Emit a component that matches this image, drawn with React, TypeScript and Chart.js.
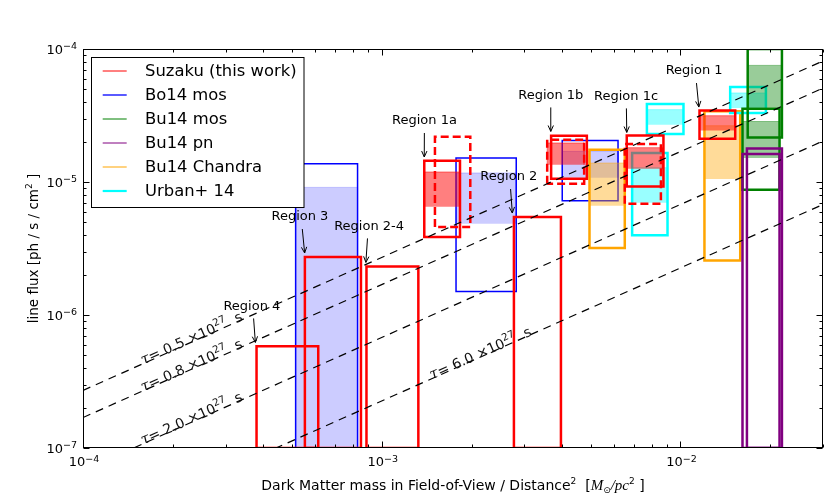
import React, { useEffect, useRef } from 'react';
import { Chart, registerables } from 'chart.js';

Chart.register(...registerables);

// ---------------- data ----------------
const seriesNames = ['Suzaku (this work)', 'Bo14 mos', 'Bu14 mos', 'Bu14 pn', 'Bu14 Chandra', 'Urban+ 14'];

// boxes: [massMin, massMax, fluxMin, fluxMax]
const suzakuBoxes = [
  [3.81e-4, 6.13e-4, 1e-7, 5.81e-7],
  [5.53e-4, 8.52e-4, 1e-7, 2.73e-6],
  [8.89e-4, 1.326e-3, 1e-7, 2.32e-6],
  [2.77e-3, 3.98e-3, 1e-7, 5.45e-6],
  [1.388e-3, 1.828e-3, 3.86e-6, 1.446e-5],
  [3.69e-3, 4.86e-3, 1.059e-5, 2.23e-5],
  [6.61e-3, 8.77e-3, 9.27e-6, 2.24e-5],
  [1.158e-2, 1.525e-2, 2.11e-5, 3.45e-5],
];
const suzakuDashedBoxes = [
  [1.507e-3, 1.979e-3, 4.59e-6, 2.19e-5],
  [3.58e-3, 4.76e-3, 9.71e-6, 2.08e-5],
  [6.51e-3, 8.6e-3, 6.87e-6, 1.931e-5],
];
// bands: [massMin, massMax, fluxLo, fluxHi]
const suzakuBands = [
  [1.388e-3, 1.828e-3, 6.52e-6, 1.189e-5],
  [3.58e-3, 4.76e-3, 1.349e-5, 1.964e-5],
  [6.61e-3, 8.7e-3, 1.259e-5, 1.811e-5],
  [1.158e-2, 1.525e-2, 2.44e-5, 3.15e-5],
];
const bo14MosBoxes = [
  [5.15e-4, 8.3e-4, 1e-7, 1.373e-5],
  [1.773e-3, 2.82e-3, 1.504e-6, 1.515e-5],
  [4.02e-3, 6.18e-3, 7.23e-6, 2.055e-5],
];
const bo14MosBands = [
  [5.15e-4, 8.3e-4, 1e-7, 9.11e-6],
  [1.773e-3, 2.82e-3, 4.86e-6, 1.169e-5],
  [4.02e-3, 6.18e-3, 1.077e-5, 1.7e-5],
];
const bu14ChandraBoxes = [
  [4.96e-3, 6.51e-3, 3.19e-6, 1.749e-5],
  [1.203e-2, 1.585e-2, 2.57e-6, 3.4e-5],
];
const bu14ChandraBands = [
  [4.96e-3, 6.51e-3, 6.63e-6, 1.389e-5],
  [1.203e-2, 1.585e-2, 1.053e-5, 2.65e-5],
];
const urbanBoxes = [
  [6.89e-3, 9.05e-3, 3.97e-6, 1.652e-5],
  [7.72e-3, 1.0235e-2, 2.3e-5, 3.86e-5],
  [1.467e-2, 1.932e-2, 3.3e-5, 5.18e-5],
];
const urbanBands = [
  [6.89e-3, 9.05e-3, 6.99e-6, 1.281e-5],
  [7.72e-3, 1.0235e-2, 2.7e-5, 3.5e-5],
  [1.467e-2, 1.932e-2, 3.6e-5, 4.67e-5],
];
const bu14MosBoxes = [
  [1.679e-2, 2.186e-2, 2.165e-5, 1e-4],
  [1.613e-2, 2.146e-2, 8.75e-6, 3.56e-5],
];
const bu14MosBands = [
  [1.679e-2, 2.186e-2, 3.62e-5, 7.53e-5],
  [1.613e-2, 2.146e-2, 1.515e-5, 2.85e-5],
];
const bu14PnBoxes = [
  [1.613e-2, 2.146e-2, 1e-7, 1.624e-5],
  [1.669e-2, 2.186e-2, 1e-7, 1.789e-5],
];

// lifetime lines: flux = coeff * mass / tau  (tau in 10^27 s)
const tauValues = [0.5, 0.8, 2.0, 6.0];
const tauFluxCoeff = 1.355e-3;

// axis ranges and tick labels
const massRange = [1e-4, 0.03];
const fluxRange = [1e-7, 1e-4];
const xTickExponents = [-4, -3, -2];
const yTickExponents = [-7, -6, -5, -4];

// region annotations (arrow tips in data coordinates)
const regionNames = ['Region 4', 'Region 3', 'Region 2-4', 'Region 1a', 'Region 2', 'Region 1b', 'Region 1c', 'Region 1'];
const regionTipMass = [3.775e-4, 5.52e-4, 8.85e-4, 1.388e-3, 2.736e-3, 3.68e-3, 6.61e-3, 1.152e-2];
const regionTipFlux = [6.22e-7, 2.925e-6, 2.486e-6, 1.542e-5, 5.845e-6, 2.4e-5, 2.36e-5, 3.66e-5];

// ---------------- styling / layout ----------------
const regionTextDx = [-3.5, -4.7, 3.2, 0.2, -3.5, 0, -0.7, -4.7];
const tauLabelMass = [1.585e-4, 1.585e-4, 1.585e-4, 1.47e-3];
const seriesColors = ['#ff0000', '#0000ff', '#008000', '#800080', '#ffa500', '#00ffff'];
const legendLineWidths = [1, 1.3, 1, 1, 1, 2.2];
const SANS = "'DejaVu Sans', sans-serif";

function rgba(hex: string, a: number) {
  const r = parseInt(hex.slice(1, 3), 16);
  const g = parseInt(hex.slice(3, 5), 16);
  const b = parseInt(hex.slice(5, 7), 16);
  return `rgba(${r},${g},${b},${a})`;
}

function boxDataset(b: number[], color: string, width: number, dashed: boolean) {
  const [x1, x2, y1, y2] = b;
  const pts = [
    { x: x1, y: y1 },
    { x: x1, y: y2 },
    { x: x2, y: y2 },
    { x: x2, y: y1 },
    { x: x1, y: y1 },
  ];
  if (!dashed) pts.push({ x: x1, y: y2 });
  return {
    type: 'line',
    data: pts,
    borderColor: color,
    borderWidth: width,
    borderDash: dashed ? [8, 4] : [],
    borderJoinStyle: 'miter',
    borderCapStyle: 'butt',
    fill: false,
    pointRadius: 0,
    pointHoverRadius: 0,
    tension: 0,
    clip: 0,
  };
}

function bandDataset(b: number[], color: string, alpha: number) {
  const [x1, x2, lo, hi] = b;
  return {
    type: 'line',
    data: [
      { x: x1, y: lo },
      { x: x1, y: hi },
      { x: x2, y: hi },
      { x: x2, y: lo },
    ],
    borderColor: rgba(color, alpha),
    backgroundColor: rgba(color, alpha),
    borderWidth: 1,
    fill: { value: lo },
    pointRadius: 0,
    pointHoverRadius: 0,
    tension: 0,
    clip: 0,
  };
}

type Seg = { t: string; font: string; dy?: number };
function segsWidth(ctx: CanvasRenderingContext2D, segs: Seg[]) {
  let w = 0;
  for (const s of segs) {
    ctx.font = s.font;
    w += ctx.measureText(s.t).width;
  }
  return w;
}
function drawSegs(ctx: CanvasRenderingContext2D, segs: Seg[], x: number, y: number) {
  let cx = x;
  for (const s of segs) {
    ctx.font = s.font;
    ctx.fillText(s.t, cx, y + (s.dy || 0));
    cx += ctx.measureText(s.t).width;
  }
}

function powSegs(e: number): Seg[] {
  return [
    { t: '10', font: `13px ${SANS}` },
    { t: (e < 0 ? '\u2212' : '') + Math.abs(e), font: `9.5px ${SANS}`, dy: -4.5 },
  ];
}

const overlayPlugin = {
  id: 'overlay',
  afterDatasetsDraw(chart: any) {
    const ctx: CanvasRenderingContext2D = chart.ctx;
    const xs = chart.scales.x;
    const ys = chart.scales.y;
    ctx.save();
    ctx.fillStyle = '#111';
    ctx.textAlign = 'left';
    ctx.textBaseline = 'alphabetic';
    // tau labels
    tauValues.forEach((tau, i) => {
      const ax = xs.getPixelForValue(massRange[0]);
      const ay = ys.getPixelForValue((tauFluxCoeff * massRange[0]) / tau);
      const bx = xs.getPixelForValue(massRange[1]);
      const by = ys.getPixelForValue((tauFluxCoeff * massRange[1]) / tau);
      const ang = Math.atan2(by - ay, bx - ax);
      const m0 = tauLabelMass[i];
      const px = xs.getPixelForValue(m0);
      const py = ys.getPixelForValue((tauFluxCoeff * m0) / tau);
      const segs: Seg[] = [
        { t: '\u03c4', font: `italic 15px 'DejaVu Serif', serif` },
        { t: '= ' + tau.toFixed(1) + ' \u00d710', font: `14px ${SANS}` },
        { t: '27', font: `10px ${SANS}`, dy: -6 },
        { t: '  s', font: `14px ${SANS}` },
      ];
      ctx.save();
      ctx.translate(px, py);
      ctx.rotate(ang);
      drawSegs(ctx, segs, 0, 1);
      ctx.restore();
    });
    // region annotations
    ctx.fillStyle = '#000';
    ctx.strokeStyle = '#000';
    ctx.lineWidth = 1;
    regionNames.forEach((name, i) => {
      const tx = xs.getPixelForValue(regionTipMass[i]);
      const ty = ys.getPixelForValue(regionTipFlux[i]);
      const dx = regionTextDx[i];
      ctx.font = `13px ${SANS}`;
      ctx.textAlign = 'center';
      ctx.textBaseline = 'middle';
      ctx.fillText(name, tx + dx, ty - 36);
      const sx = tx + dx * 0.5;
      const sy = ty - 24;
      ctx.beginPath();
      ctx.moveTo(sx, sy);
      ctx.lineTo(tx, ty);
      const d = Math.atan2(ty - sy, tx - sx);
      const hl = 6.5;
      const ha = 0.42;
      ctx.moveTo(tx - hl * Math.cos(d - ha), ty - hl * Math.sin(d - ha));
      ctx.lineTo(tx, ty);
      ctx.lineTo(tx - hl * Math.cos(d + ha), ty - hl * Math.sin(d + ha));
      ctx.stroke();
    });
    ctx.restore();
  },
  afterDraw(chart: any) {
    const ctx: CanvasRenderingContext2D = chart.ctx;
    const xs = chart.scales.x;
    const ys = chart.scales.y;
    const a = chart.chartArea;
    const L = Math.round(a.left) + 0.5;
    const R = Math.round(a.right) - 0.5;
    const T = Math.round(a.top) + 0.5;
    const B = Math.round(a.bottom) - 0.5;
    ctx.save();
    ctx.strokeStyle = '#000';
    ctx.lineWidth = 1;
    // ticks
    ctx.beginPath();
    for (let e = -5; e <= -1; e++) {
      for (let k = 1; k <= 9; k++) {
        const v = k * Math.pow(10, e);
        const len = k === 1 ? 6 : 3;
        if (v >= massRange[0] * 0.999 && v <= massRange[1] * 1.001) {
          const p = Math.round(xs.getPixelForValue(v)) + 0.5;
          ctx.moveTo(p, B);
          ctx.lineTo(p, B - len);
          ctx.moveTo(p, T);
          ctx.lineTo(p, T + len);
        }
      }
    }
    for (let e = -8; e <= -4; e++) {
      for (let k = 1; k <= 9; k++) {
        const v = k * Math.pow(10, e);
        const len = k === 1 ? 6 : 3;
        if (v >= fluxRange[0] * 0.999 && v <= fluxRange[1] * 1.001) {
          const p = Math.round(ys.getPixelForValue(v)) + 0.5;
          ctx.moveTo(L, p);
          ctx.lineTo(L + len, p);
          ctx.moveTo(R, p);
          ctx.lineTo(R - len, p);
        }
      }
    }
    ctx.stroke();
    // frame
    ctx.strokeRect(L, T, R - L, B - T);

    // tick labels
    ctx.fillStyle = '#000';
    ctx.textAlign = 'left';
    ctx.textBaseline = 'alphabetic';
    yTickExponents.forEach((e) => {
      const segs = powSegs(e);
      const w = segsWidth(ctx, segs);
      const p = ys.getPixelForValue(Math.pow(10, e));
      drawSegs(ctx, segs, 77 - w, p + 4.7);
    });
    xTickExponents.forEach((e) => {
      const segs = powSegs(e);
      const w = segsWidth(ctx, segs);
      const p = xs.getPixelForValue(Math.pow(10, e));
      drawSegs(ctx, segs, p - w / 2 + 1, 466);
    });

    // axis titles
    const xt: Seg[] = [
      { t: 'Dark Matter mass in Field-of-View / Distance', font: `14px ${SANS}` },
      { t: '2', font: `9px ${SANS}`, dy: -6 },
      { t: '  [', font: `14px ${SANS}` },
      { t: 'M', font: `italic 15px 'Liberation Serif', serif` },
      { t: '\u2299', font: `9px ${SANS}`, dy: 3 },
      { t: '/', font: `italic 15px 'Liberation Serif', serif` },
      { t: 'pc', font: `italic 15px 'Liberation Serif', serif` },
      { t: '2', font: `9px ${SANS}`, dy: -6 },
      { t: ' ]', font: `14px ${SANS}` },
    ];
    const xw = segsWidth(ctx, xt);
    drawSegs(ctx, xt, (a.left + a.right) / 2 - xw / 2, 490);

    const yt: Seg[] = [
      { t: 'line flux [ph / s / cm', font: `13.5px ${SANS}` },
      { t: '2', font: `9px ${SANS}`, dy: -6 },
      { t: ' ]', font: `13.5px ${SANS}` },
    ];
    const yw = segsWidth(ctx, yt);
    ctx.save();
    ctx.translate(38, (a.top + a.bottom) / 2);
    ctx.rotate(-Math.PI / 2);
    drawSegs(ctx, yt, -yw / 2, 0);
    ctx.restore();

    // legend
    const lx = 91.5;
    const ly = 57.5;
    const lw = 212.5;
    const lh = 150;
    ctx.fillStyle = '#fff';
    ctx.fillRect(lx, ly, lw, lh);
    ctx.strokeStyle = '#000';
    ctx.lineWidth = 1;
    ctx.strokeRect(lx, ly, lw, lh);
    seriesNames.forEach((name, i) => {
      const y = 71 + i * 24;
      ctx.strokeStyle = seriesColors[i];
      ctx.lineWidth = legendLineWidths[i];
      ctx.beginPath();
      ctx.moveTo(102.7, y);
      ctx.lineTo(126.7, y);
      ctx.stroke();
      ctx.fillStyle = '#000';
      ctx.font = `16.4px ${SANS}`;
      ctx.textAlign = 'left';
      ctx.textBaseline = 'middle';
      ctx.fillText(name, 145, y + 1);
    });
    ctx.restore();
  },
};

export default function App() {
  const ref = useRef<HTMLCanvasElement | null>(null);
  useEffect(() => {
    document.body.style.margin = '0';
    const canvas = ref.current;
    if (!canvas) return;
    const ds: any[] = [];
    // drawing order: bottom -> top
    bo14MosBands.forEach((b) => ds.push(bandDataset(b, seriesColors[1], 0.2)));
    bo14MosBoxes.forEach((b) => ds.push(boxDataset(b, seriesColors[1], 1.5, false)));
    bu14ChandraBands.forEach((b) => ds.push(bandDataset(b, seriesColors[4], 0.4)));
    bu14ChandraBoxes.forEach((b) => ds.push(boxDataset(b, seriesColors[4], 2.5, false)));
    urbanBands.forEach((b) => ds.push(bandDataset(b, seriesColors[5], 0.4)));
    urbanBoxes.forEach((b) => ds.push(boxDataset(b, seriesColors[5], 2.5, false)));
    bu14MosBands.forEach((b) => ds.push(bandDataset(b, seriesColors[2], 0.4)));
    bu14MosBoxes.forEach((b) => ds.push(boxDataset(b, seriesColors[2], 2.5, false)));
    bu14PnBoxes.forEach((b) => ds.push(boxDataset(b, seriesColors[3], 2.5, false)));
    suzakuBands.forEach((b) => ds.push(bandDataset(b, seriesColors[0], 0.5)));
    suzakuDashedBoxes.forEach((b) => ds.push(boxDataset(b, seriesColors[0], 2.5, true)));
    suzakuBoxes.forEach((b) => ds.push(boxDataset(b, seriesColors[0], 2.5, false)));
    tauValues.forEach((tau) =>
      ds.push({
        type: 'line',
        data: [
          { x: massRange[0], y: (tauFluxCoeff * massRange[0]) / tau },
          { x: massRange[1], y: (tauFluxCoeff * massRange[1]) / tau },
        ],
        borderColor: '#000',
        borderWidth: 1.2,
        borderDash: [8, 6],
        fill: false,
        pointRadius: 0,
        pointHoverRadius: 0,
        clip: 0,
      })
    );
    ds.forEach((d, i) => (d.order = -i));

    const chart = new Chart(canvas, {
      type: 'line',
      data: { datasets: ds },
      options: {
        responsive: false,
        maintainAspectRatio: false,
        animation: false,
        events: [],
        layout: { padding: { left: 83, top: 49, right: 7, bottom: 50 } },
        scales: {
          x: { type: 'logarithmic', min: massRange[0], max: massRange[1], display: false },
          y: { type: 'logarithmic', min: fluxRange[0], max: fluxRange[1], display: false },
        },
        plugins: {
          legend: { display: false },
          tooltip: { enabled: false },
        },
      } as any,
      plugins: [overlayPlugin],
    } as any);
    return () => chart.destroy();
  }, []);
  return (
    <div style={{ width: 830, height: 498, background: '#fff' }}>
      <canvas ref={ref} width={830} height={498} style={{ display: 'block' }} />
    </div>
  );
}
